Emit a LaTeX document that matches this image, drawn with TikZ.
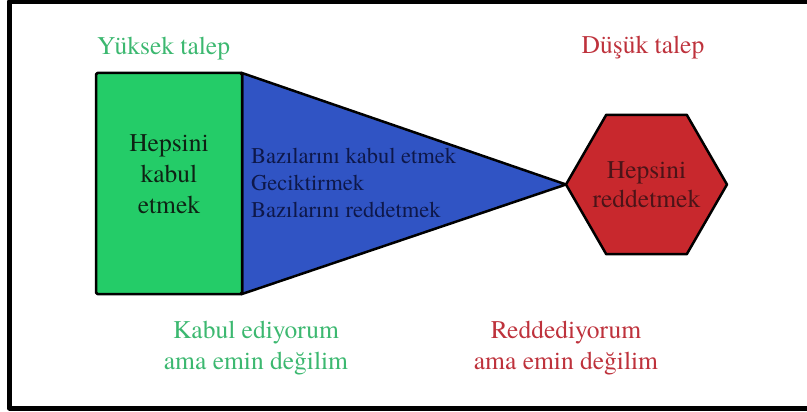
\documentclass[tikz,border=0pt]{standalone}
\usepackage{fontspec}
\setmainfont{texgyretermes}[Extension=.otf,UprightFont=*-regular,BoldFont=*-bold]
\usetikzlibrary{shapes.geometric,backgrounds}
\definecolor{acceptfill}{RGB}{36,204,104}
\definecolor{accepttext}{RGB}{60,184,112}
\definecolor{mixfill}{RGB}{48,84,196}
\definecolor{mixtext}{RGB}{14,24,74}
\definecolor{rejectfill}{RGB}{200,40,45}
\definecolor{rejecttext}{RGB}{190,50,60}
\definecolor{inktext}{RGB}{14,34,20}
\begin{document}
\begin{tikzpicture}[x=1pt,y=-1pt,line join=round,line cap=round,
	big/.style={font=\fontsize{25.5}{31}\selectfont,inner sep=0pt},
	small/.style={font=\fontsize{22.5}{27}\selectfont,inner sep=0pt},
	acceptbox/.style={draw,line width=2.5pt,fill=acceptfill,rounded corners=1.5pt,
		minimum width=146pt,minimum height=221pt,inner sep=0pt,outer sep=0pt},
	rejecthex/.style={draw,line width=2.5pt,fill=rejectfill,regular polygon,regular polygon sides=6,
		minimum size=161pt,inner sep=0pt,outer sep=0pt}]
	\useasboundingbox (0,0) rectangle (807,412);
	\clip (0,0) rectangle (807,412);
	\draw[line width=5pt] (9.5,2) rectangle (830,408);
	\node[acceptbox] (accept) at (169,183.5) {};
	\node[rejecthex] (reject) at (646.5,184.5) {};
	\begin{scope}[on background layer]
		\filldraw[fill=mixfill,line width=2.5pt] (accept.north east)--(reject.west)--(accept.south east)--cycle;
	\end{scope}
	\node[big,text=inktext,align=center] (acceptText) at (accept.center) [yshift=9pt] {Hepsini\\kabul\\etmek};
	\node[big,text=rejecttext!40!black,align=center,font=\fontsize{25.5}{29}\selectfont]
		(rejectText) at (reject.center) {Hepsini\\reddetmek};
	\node[small,text=mixtext,align=left,anchor=west] (mixText) at (251,183.3)
		{Bazılarını kabul etmek\\Geciktirmek\\Bazılarını reddetmek};
	\node[big,text=accepttext,anchor=base west] (high) at (97,54.5) {Yüksek talep};
	\node[big,text=rejecttext,anchor=base] (low) at (643,54) {Düşük talep};
	\node[big,text=accepttext,align=center] (unsureYes) at (256,348) {Kabul ediyorum\\ama emin değilim};
	\node[big,text=rejecttext,align=center] (unsureNo) at (566,348) {Reddediyorum\\ama emin değilim};
\end{tikzpicture}
\end{document}
